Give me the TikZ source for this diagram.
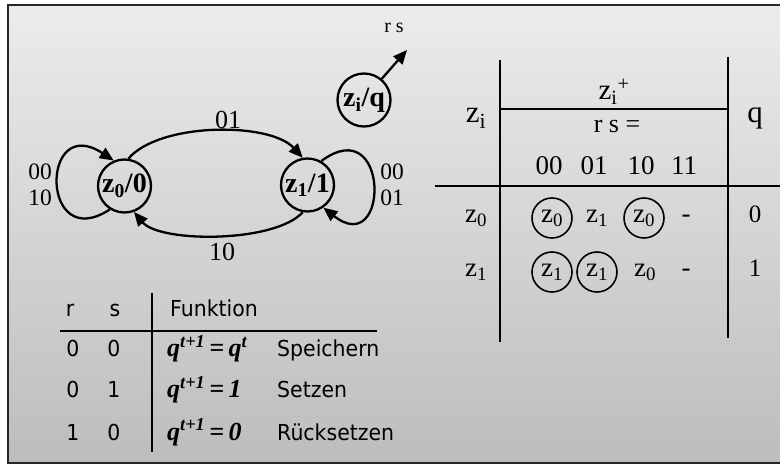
\documentclass[tikz,border=0pt]{standalone}
\usepackage{fontspec}
\setmainfont{Liberation Serif}
\newfontfamily\sansf[FakeStretch=0.93]{DejaVu Sans}
\usetikzlibrary{arrows.meta}
\begin{document}
\begin{tikzpicture}[x=1pt,y=-1pt,
  st/.style={circle,draw,line width=2.3pt,minimum size=53pt,inner sep=0pt,font=\fontsize{28}{30}\selectfont\bfseries},
  tc/.style={circle,draw,line width=1.6pt,minimum size=40pt,inner sep=0pt,font=\fontsize{27}{29}\selectfont},
  arr/.style={line width=2.3pt,-{Triangle[length=14pt,width=12pt]}},
  lab/.style={font=\fontsize{26}{28}\selectfont,inner sep=0pt},
  lab2/.style={font=\fontsize{23.5}{25}\selectfont,inner sep=0pt},
  tx/.style={font=\fontsize{27}{29}\selectfont,inner sep=0pt,anchor=base},
  hd/.style={font=\fontsize{31}{33}\selectfont,inner sep=0pt,anchor=base},
  sx/.style={font=\sansf\fontsize{22}{24}\selectfont,inner sep=0pt},
  mx/.style={font=\fontsize{26}{28}\selectfont\bfseries\itshape,inner sep=0pt,anchor=base west},
  rule/.style={line width=1.6pt},
  thin/.style={line width=1.3pt}]
\useasboundingbox (0,0) rectangle (780,465);
% background
\shade[top color=gray!15,bottom color=gray!52] (8,5) rectangle (784,463);
\draw[line width=1.8pt,black!85] (8,5) rectangle (784,463);

% state diagram
\node[st] (z0) at (124.5,186) {z\textsubscript{0}/0};
\node[st] (z1) at (307.5,185) {z\textsubscript{1}/1};
\node[st] (zq) at (364,100) {z\textsubscript{i}/q};
\coordinate (rsend) at (407,50);
\node[font=\fontsize{20}{22}\selectfont,inner sep=0pt] (rs) at (394,28) {r s};
\draw[arr] (zq.50) -- (rsend);

\draw[arr] (z0.82) .. controls (160,122) and (270,122) .. (z1.100);
\draw[arr] (z1.260) .. controls (275,243) and (160,243) .. (z0.290);
\draw[arr] (z0.238) .. controls (40,255) and (40,112) .. (z0.113);
\draw[arr] (z1.60) .. controls (390,110) and (390,260) .. (z1.305);

\node[lab] (l01) at (228,120) {01};
\node[lab] (l10) at (222,252) {10};
\node[lab2] (l00a) at (40,172) {00};
\node[lab2] (l10a) at (40,198) {10};
\node[lab2] (l00b) at (392,172) {00};
\node[lab2] (l01b) at (392,198) {01};

% state table
\draw[rule] (500,60) -- (500,342);
\draw[rule] (728,57) -- (728,338);
\draw[rule] (500,109) -- (728,109);
\draw[rule] (435,186) -- (782,186);

\node[hd] (hzi) at (476,123) {z\textsubscript{i}};
\node[hd] (hq) at (755,123) {q};
\node[hd,font=\fontsize{29}{31}\selectfont] (hzp) at (614,100) {z\textsubscript{i}\textsuperscript{+}};
\node[tx,font=\fontsize{26}{28}\selectfont] (hrs) at (617,133) {r s =};
\node[tx] (c00) at (549,175) {00};
\node[tx] (c01) at (594,175) {01};
\node[tx] (c10) at (641,175) {10};
\node[tx] (c11) at (684,175) {11};

\node[tx] (r0) at (476,223) {z\textsubscript{0}};
\node[tx] (r1) at (476,277) {z\textsubscript{1}};
\node[tc] (e00) at (552,218) {z\textsubscript{0}};
\node[tx] (e01) at (597,223) {z\textsubscript{1}};
\node[tc] (e02) at (644,218) {z\textsubscript{0}};
\node[tx] (e03) at (686,223) {-};
\node[tx,font=\fontsize{25}{27}\selectfont] (q0) at (755,223) {0};
\node[tc] (e10) at (552,272) {z\textsubscript{1}};
\node[tc] (e11) at (597,272) {z\textsubscript{1}};
\node[tx] (e12) at (645,277) {z\textsubscript{0}};
\node[tx] (e13) at (686,277) {-};
\node[tx,font=\fontsize{25}{27}\selectfont] (q1) at (755,277) {1};

% function table
\draw[thin] (152,293) -- (152,452);
\draw[thin] (60,331) -- (377,331);
\node[sx,anchor=base] (tr) at (70,317) {r};
\node[sx,anchor=base] (ts) at (115,317) {s};
\node[sx,anchor=base west] (tf) at (170,317) {Funktion};

\node[sx,anchor=base] (a1) at (73,357) {0};
\node[sx,anchor=base] (b1) at (114,357) {0};
\node[mx] (m1) at (167,357) {q\textsuperscript{t+1}\,{\upshape=}\,q\textsuperscript{t}};
\node[sx,anchor=base west] (w1) at (277,357) {Speichern};

\node[sx,anchor=base] (a2) at (73,398) {0};
\node[sx,anchor=base] (b2) at (114,398) {1};
\node[mx] (m2) at (167,398) {q\textsuperscript{t+1}\,{\upshape=}\,1};
\node[sx,anchor=base west] (w2) at (277,398) {Setzen};

\node[sx,anchor=base] (a3) at (73,440) {1};
\node[sx,anchor=base] (b3) at (114,440) {0};
\node[mx] (m3) at (167,440) {q\textsuperscript{t+1}\,{\upshape=}\,0};
\node[sx,anchor=base west] (w3) at (277,440) {Rücksetzen};
\end{tikzpicture}
\end{document}
